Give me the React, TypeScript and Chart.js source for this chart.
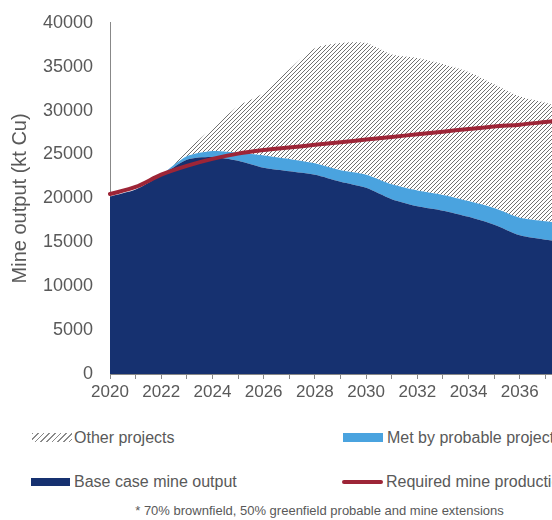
import React, { useEffect, useRef } from 'react';
import { Chart, registerables } from 'chart.js';

Chart.register(...registerables);

const years = ['2020', '2021', '2022', '2023', '2024', '2025', '2026', '2027', '2028', '2029', '2030', '2031', '2032', '2033', '2034', '2035', '2036', '2037', '2038'];
const baseCase = [20200, 21000, 22600, 24400, 24700, 24300, 23500, 23100, 22700, 21900, 21200, 19900, 19100, 18600, 17900, 17000, 15800, 15300, 15000];
const probableProjects = [0, 0, 100, 400, 700, 900, 1400, 1400, 1300, 1300, 1500, 1700, 1800, 1800, 1800, 1900, 2000, 2100, 2000];
const otherProjects = [0, 0, 0, 700, 2600, 5300, 7100, 10200, 13100, 14500, 15000, 14800, 15100, 14900, 14700, 14100, 13800, 13500, 13000];
const requiredProduction = [20500, 21300, 22700, 23700, 24500, 25100, 25500, 25800, 26100, 26400, 26700, 27000, 27300, 27600, 27900, 28200, 28400, 28700, 29000];

const NAVY = '#163170';
const LIGHT_BLUE = '#4AA3DF';
const RED = '#9D2537';
const TEXT = '#595959';
const FONT = '"Liberation Sans", Arial, sans-serif';

function makeHatch(): CanvasPattern | string {
  const c = document.createElement('canvas');
  c.width = 4;
  c.height = 4;
  const ctx = c.getContext('2d');
  if (!ctx) return '#999';
  ctx.fillStyle = '#ffffff';
  ctx.fillRect(0, 0, 4, 4);
  ctx.strokeStyle = '#707070';
  ctx.lineWidth = 1;
  ctx.beginPath();
  ctx.moveTo(0, 4);
  ctx.lineTo(4, 0);
  ctx.moveTo(-1, 1);
  ctx.lineTo(1, -1);
  ctx.moveTo(3, 5);
  ctx.lineTo(5, 3);
  ctx.stroke();
  return ctx.createPattern(c, 'repeat') || '#999';
}

export default function App() {
  const ref = useRef<HTMLCanvasElement | null>(null);

  useEffect(() => {
    if (!ref.current) return;
    const hatch = makeHatch();
    const chart = new Chart(ref.current, {
      type: 'line',
      data: {
        labels: years,
        datasets: [
          {
            label: 'Required mine production',
            data: requiredProduction,
            stack: 'required',
            borderColor: RED,
            borderWidth: 4,
            pointRadius: 0,
            fill: false,
            tension: 0.3,
            borderCapStyle: 'round',
          },
          {
            label: 'Base case mine output',
            data: baseCase,
            stack: 'supply',
            backgroundColor: NAVY,
            borderWidth: 0,
            pointRadius: 0,
            fill: 'origin',
            tension: 0.25,
          },
          {
            label: 'Met by probable projects*',
            data: probableProjects,
            stack: 'supply',
            backgroundColor: LIGHT_BLUE,
            borderWidth: 0,
            pointRadius: 0,
            fill: '-1',
            tension: 0.25,
          },
          {
            label: 'Other projects',
            data: otherProjects,
            stack: 'supply',
            backgroundColor: hatch as any,
            borderWidth: 0,
            pointRadius: 0,
            fill: '-1',
            tension: 0.25,
          },
        ],
      },
      options: {
        animation: false,
        responsive: false,
        maintainAspectRatio: false,
        layout: { padding: { top: 1, right: 37, bottom: 0, left: 0 } },
        plugins: {
          legend: { display: false },
          tooltip: { enabled: false },
        },
        scales: {
          x: {
            type: 'category',
            offset: false,
            grid: { display: true, drawOnChartArea: false, drawTicks: true, tickLength: 5, color: '#888888' },
            border: { display: true, color: '#888888', width: 1 },
            ticks: {
              autoSkip: false,
              maxRotation: 0,
              padding: 3,
              color: TEXT,
              font: { family: FONT, size: 17 },
              callback: (_v: any, i: number) => (i % 2 === 0 ? years[i] : ''),
            },
            afterFit: (s: any) => {
              s.height = 36;
            },
          },
          y: {
            stacked: true,
            min: 0,
            max: 40000,
            grid: { display: false, drawTicks: false },
            border: { display: true, color: '#888888', width: 1 },
            ticks: {
              stepSize: 5000,
              padding: 17,
              color: TEXT,
              font: { family: FONT, size: 18 },
              callback: (v: any) => String(v),
            },
            title: {
              display: true,
              text: 'Mine output (kt Cu)',
              color: TEXT,
              font: { family: FONT, size: 20 },
              padding: { top: 0, bottom: 0 },
            },
            afterFit: (s: any) => {
              s.width = 102;
            },
          },
        },
      } as any,
    });
    return () => chart.destroy();
  }, []);

  const legendText: React.CSSProperties = {
    position: 'absolute',
    fontSize: 16,
    lineHeight: '18px',
    whiteSpace: 'nowrap',
    color: TEXT,
  };

  return (
    <div
      style={{
        position: 'fixed',
        left: 0,
        top: 0,
        width: 552,
        height: 520,
        overflow: 'hidden',
        fontFamily: FONT,
        background: '#ffffff',
      }}
    >
      <canvas
        ref={ref}
        width={600}
        height={415}
        style={{ position: 'absolute', left: 8, top: -5, width: 600, height: 415 }}
      />
      <div
        style={{
          position: 'absolute',
          left: 32,
          top: 433,
          width: 40,
          height: 9,
          background: 'repeating-linear-gradient(135deg, #8a8a8a 0px, #8a8a8a 1px, #ffffff 1px, #ffffff 4px)',
        }}
      />
      <div style={{ ...legendText, left: 74, top: 429 }}>Other projects</div>
      <div style={{ position: 'absolute', left: 343, top: 433, width: 40, height: 9, background: LIGHT_BLUE }} />
      <div style={{ ...legendText, left: 387, top: 429 }}>Met by probable projects*</div>
      <div style={{ position: 'absolute', left: 31, top: 478, width: 39, height: 8, background: NAVY }} />
      <div style={{ ...legendText, left: 74, top: 473 }}>Base case mine output</div>
      <div style={{ position: 'absolute', left: 342, top: 479.5, width: 41, height: 4.5, borderRadius: 2.25, background: RED }} />
      <div style={{ ...legendText, left: 386, top: 473 }}>Required mine production</div>
      <div
        style={{
          position: 'absolute',
          left: 319.5,
          top: 502.5,
          transform: 'translateX(-50%)',
          fontSize: 13,
          lineHeight: '15px',
          whiteSpace: 'nowrap',
          color: TEXT,
        }}
      >
        * 70% brownfield, 50% greenfield probable and mine extensions
      </div>
    </div>
  );
}
